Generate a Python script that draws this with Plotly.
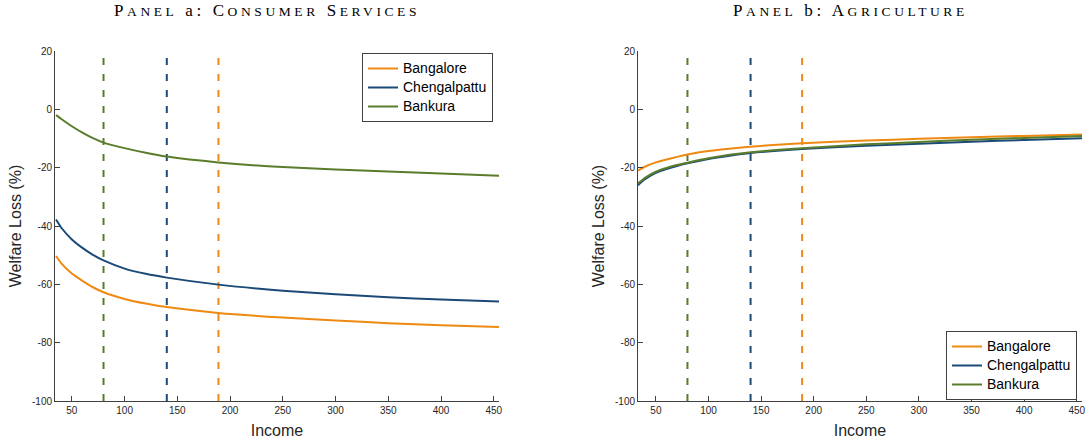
import plotly.graph_objects as go

# ---------------- data ----------------
regions = ["Bangalore", "Chengalpattu", "Bankura"]
colors = ["#EE8A12", "#1B4A78", "#5A7D2C"]

income_a = [35, 40, 50, 60, 70, 80, 100, 120, 140, 189, 250, 300, 350, 400, 455]
cs_bangalore = [-50.3, -52.8, -56.3, -58.8, -61.0, -62.7, -65.0, -66.6, -67.8, -69.8, -71.4, -72.4, -73.3, -74.0, -74.6]
cs_chengalpattu = [-37.8, -40.6, -44.6, -47.5, -49.9, -51.8, -54.6, -56.4, -57.7, -60.1, -62.2, -63.4, -64.4, -65.2, -65.9]
cs_bankura = [-2.0, -3.3, -5.8, -8.0, -9.9, -11.4, -13.3, -14.9, -16.2, -18.2, -19.8, -20.6, -21.3, -22.0, -22.8]

income_b = [33, 40, 50, 60, 70, 80, 100, 120, 140, 189, 250, 300, 350, 400, 455]
ag_bangalore = [-21.0, -19.6, -18.2, -17.2, -16.3, -15.5, -14.3, -13.5, -12.8, -11.6, -10.7, -10.1, -9.6, -9.1, -8.6]
ag_chengalpattu = [-26.0, -23.9, -21.8, -20.5, -19.4, -18.5, -17.0, -15.9, -15.0, -13.6, -12.5, -11.8, -11.1, -10.5, -9.9]
ag_bankura = [-25.4, -23.4, -21.4, -20.1, -19.1, -18.3, -16.8, -15.6, -14.7, -13.3, -12.0, -11.2, -10.4, -9.8, -9.1]

median_income = [189, 140, 80]  # Bangalore, Chengalpattu, Bankura

x_ticks = [50, 100, 150, 200, 250, 300, 350, 400, 450]
x_tick_labels = ["50", "100", "150", "200", "250", "300", "350", "400", "450"]
y_ticks = [20, 0, -20, -40, -60, -80, -100]
y_tick_labels = ["20", "0", "-20", "-40", "-60", "-80", "-100"]
y_range = [-100, 20]

SC = "<span style='font-size:13.5px'>"
panel_a_title = ("<span style='letter-spacing:3.6px'>P" + SC + "ANEL</span> a: C" + SC + "ONSUMER</span> S"
                 + SC + "ERVICES</span></span>")
panel_b_title = ("<span style='letter-spacing:3.6px'>P" + SC + "ANEL</span> b: A" + SC + "GRICULTURE</span></span>")

# ---------------- layout helpers ----------------
W, H = 1087, 443
def fx(p):
    return p / W
def fy(p):
    return 1 - p / H

# ---------------- figure ----------------
fig = go.Figure()

panels = [
    ("x", "y", "legend", income_a, [cs_bangalore, cs_chengalpattu, cs_bankura]),
    ("x2", "y2", "legend2", income_b, [ag_bangalore, ag_chengalpattu, ag_bankura]),
]

for xa, ya, leg, xs, series in panels:
    # vertical dashed reference lines (median income)
    for name, col, m in zip(regions, colors, median_income):
        fig.add_trace(go.Scatter(
            x=[m, m], y=y_range, mode="lines", xaxis=xa, yaxis=ya,
            line=dict(color=col, width=2, dash="7px,9px"),
            showlegend=False, hoverinfo="skip"))
    for name, col, ys in zip(regions, colors, series):
        fig.add_trace(go.Scatter(
            x=xs, y=ys, mode="lines", name="<span style='font-size:14px'>" + name + "</span>",
            xaxis=xa, yaxis=ya, legend=leg,
            line=dict(color=col, width=2, shape="spline", smoothing=0.6)))

axis_common = dict(
    showgrid=False, zeroline=False, showline=True, linecolor="#404040", linewidth=1,
    ticks="inside", ticklen=5, tickcolor="#404040", mirror=False, automargin=False,
    tickfont=dict(family="Liberation Sans, Arial, sans-serif", size=10, color="#262626"),
)
title_font = dict(family="Liberation Sans, Arial, sans-serif", size=16, color="#262626")
legend_font = dict(family="Liberation Sans, Arial, sans-serif", size=11, color="black")

fig.update_layout(
    width=W, height=H,
    margin=dict(l=0, r=0, t=0, b=0),
    paper_bgcolor="white", plot_bgcolor="white",
    xaxis=dict(domain=[fx(55), fx(499)], range=[34, 455], tickvals=x_ticks, ticktext=x_tick_labels,
               title=dict(text="Income", font=title_font, standoff=9), anchor="y", **axis_common),
    yaxis=dict(domain=[fy(401), fy(51)], range=y_range, tickvals=y_ticks, ticktext=y_tick_labels,
               title=dict(text="Welfare Loss (%)", font=title_font, standoff=6), anchor="x", **axis_common),
    xaxis2=dict(domain=[fx(638), fx(1082)], range=[33, 455], tickvals=x_ticks, ticktext=x_tick_labels,
                title=dict(text="Income", font=title_font, standoff=9), anchor="y2", **axis_common),
    yaxis2=dict(domain=[fy(401), fy(51)], range=y_range, tickvals=y_ticks, ticktext=y_tick_labels,
                title=dict(text="Welfare Loss (%)", font=title_font, standoff=6), anchor="x2", **axis_common),
    legend=dict(x=fx(362), y=fy(53), xanchor="left", yanchor="top",
                bgcolor="white", bordercolor="#404040", borderwidth=1,
                font=legend_font, itemwidth=30, tracegroupgap=0),
    legend2=dict(x=fx(946), y=fy(331), xanchor="left", yanchor="top",
                 bgcolor="white", bordercolor="#404040", borderwidth=1,
                 font=legend_font, itemwidth=30, tracegroupgap=0),
    annotations=[
        dict(text=panel_a_title, x=fx(267), y=fy(11), xref="paper", yref="paper",
             showarrow=False, xanchor="center", yanchor="middle",
             font=dict(family="Liberation Serif, DejaVu Serif, serif", size=17, color="black")),
        dict(text=panel_b_title, x=fx(850), y=fy(11), xref="paper", yref="paper",
             showarrow=False, xanchor="center", yanchor="middle",
             font=dict(family="Liberation Serif, DejaVu Serif, serif", size=17, color="black")),
    ],
)

fig.write_html("out.html", config={"displayModeBar": False},
               post_script="document.body.style.margin='0';document.body.style.overflow='hidden';")
